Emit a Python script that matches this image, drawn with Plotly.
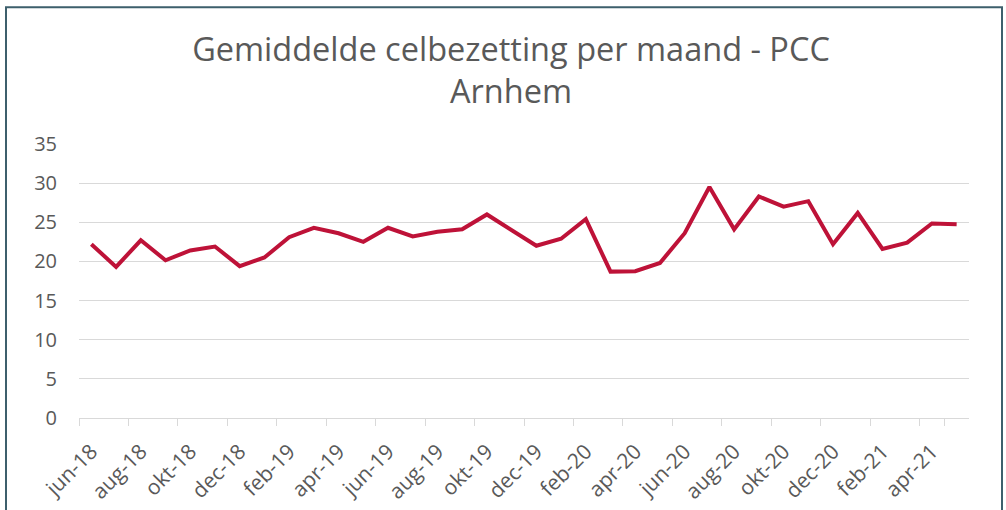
import plotly.graph_objects as go

months = ["jun-18", "jul-18", "aug-18", "sep-18", "okt-18", "nov-18", "dec-18",
          "jan-19", "feb-19", "mrt-19", "apr-19", "mei-19", "jun-19", "jul-19",
          "aug-19", "sep-19", "okt-19", "nov-19", "dec-19", "jan-20", "feb-20",
          "mrt-20", "apr-20", "mei-20", "jun-20", "jul-20", "aug-20", "sep-20",
          "okt-20", "nov-20", "dec-20", "jan-21", "feb-21", "mrt-21", "apr-21",
          "mei-21"]
bezetting = [22.2, 19.3, 22.7, 20.15, 21.4, 21.9, 19.4, 20.5, 23.1, 24.3, 23.6,
             22.5, 24.3, 23.2, 23.8, 24.1, 26.0, 23.95, 22.0, 22.9, 25.4, 18.7,
             18.75, 19.8, 23.6, 29.5, 24.1, 28.3, 27.0, 27.7, 22.2, 26.2, 21.6,
             22.4, 24.85, 24.75]
y_ticks = [0, 5, 10, 15, 20, 25, 30, 35]

W, H = 1006, 510
L, R, T, B = 79, 37, 144, 92.4

fig = go.Figure()
fig.add_trace(go.Scatter(
    x=months, y=bezetting, mode="lines",
    line=dict(color="#BE1238", width=4),
    hoverinfo="x+y",
))

pw, ph = W - L - R, H - T - B
def px(xp):
    return (xp - L) / pw
def py(yp):
    return (H - B - yp) / ph

fig.update_layout(
    width=W, height=H,
    margin=dict(l=L, r=R, t=T, b=B, autoexpand=False),
    paper_bgcolor="white", plot_bgcolor="white",
    font=dict(family="Open Sans", color="#595959", size=20),
    showlegend=False,
    title=dict(
        text="Gemiddelde celbezetting per maand - PCC<br>Arnhem",
        x=511 / W, xanchor="center",
        y=1 - 61 / H, yanchor="top", yref="container",
        font=dict(size=32.5, color="#595959", family="Open Sans"),
    ),
    xaxis=dict(
        type="category",
        tickmode="array",
        tickvals=months[::2],
        ticktext=months[::2],
        tickangle=-45,
        tickson="boundaries",
        ticks="outside", ticklen=7, tickcolor="#d9d9d9", tickwidth=1,
        ticklabelstandoff=12,
        showline=True, linecolor="#d9d9d9", linewidth=1,
        showgrid=False, zeroline=False, automargin=False,
        tickfont=dict(size=21, color="#595959"),
        range=[-0.5, len(months) - 0.5],
    ),
    yaxis=dict(
        range=[0, 35],
        tickmode="array", tickvals=y_ticks,
        showgrid=True, gridcolor="#d9d9d9", gridwidth=1,
        zeroline=False, showline=False, automargin=False,
        ticks="outside", ticklen=17, tickcolor="rgba(0,0,0,0)",
        tickfont=dict(size=20, color="#595959"),
    ),
    shapes=[dict(
        type="rect", xref="paper", yref="paper",
        x0=px(6), x1=px(1002), y0=py(530), y1=py(7.5),
        line=dict(color="#3d5f6c", width=2), fillcolor="rgba(0,0,0,0)",
        layer="below",
    )],
)

fig.write_html("out.html", config={"displayModeBar": False},
               post_script="document.body.style.margin='0';")
